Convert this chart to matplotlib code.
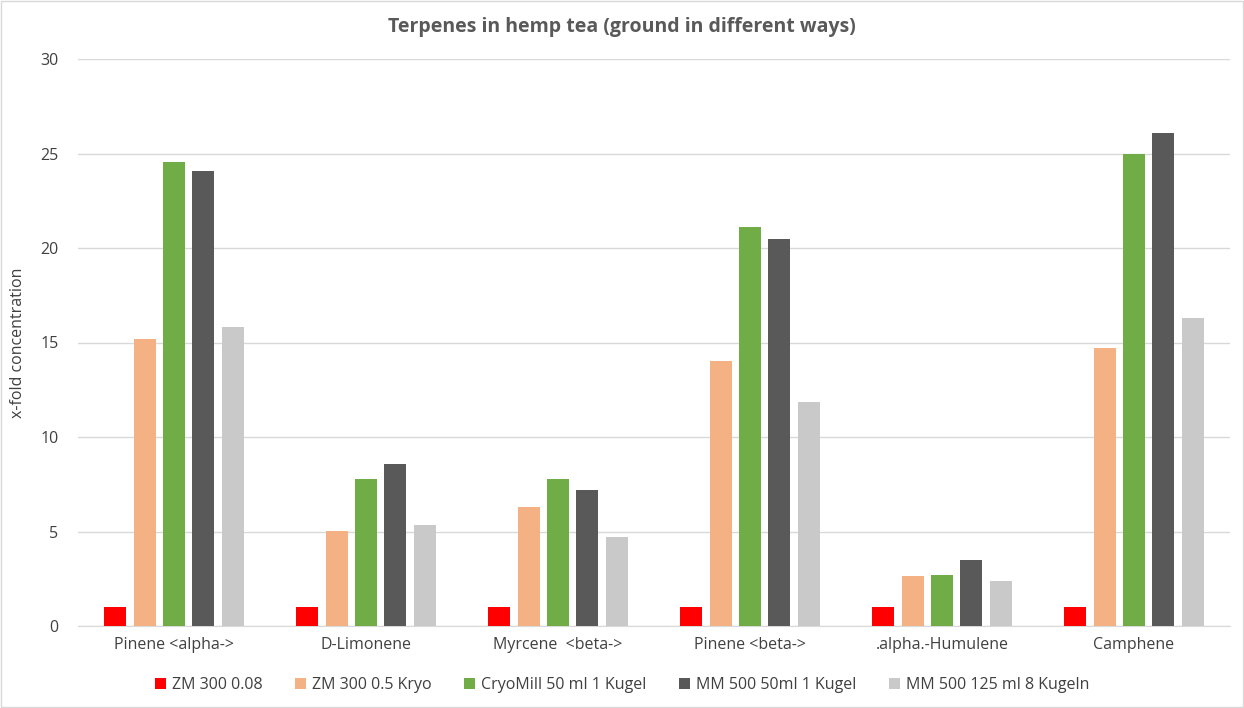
import matplotlib.pyplot as plt
import numpy as np

categories = ["Pinene <alpha->", "D-Limonene", "Myrcene  <beta->", "Pinene <beta->",
              ".alpha.-Humulene", "Camphene"]
series_names = ["ZM 300 0.08", "ZM 300 0.5 Kryo", "CryoMill 50 ml 1 Kugel",
                "MM 500 50ml 1 Kugel", "MM 500 125 ml 8 Kugeln"]
zm_008 = [1, 1, 1, 1, 1, 1]
zm_05_kryo = [15.2, 5.03, 6.3, 14.02, 2.65, 14.71]
cryomill = [24.55, 7.78, 7.78, 21.11, 2.7, 24.97]
mm500_1 = [24.07, 8.57, 7.2, 20.48, 3.49, 26.08]
mm500_8 = [15.82, 5.34, 4.71, 11.85, 2.38, 16.3]
colors = ["#FF0000", "#F4B183", "#70AD47", "#595959", "#C9C9C9"]

plt.rcParams['font.family'] = ['Open Sans', 'DejaVu Sans']

fig = plt.figure(figsize=(12.44, 7.08), dpi=100)
ax = fig.add_axes([78 / 1244, 82 / 708, 1152 / 1244, 567 / 708])

x = np.arange(len(categories))
width = 0.115
step = 0.153
all_series = [zm_008, zm_05_kryo, cryomill, mm500_1, mm500_8]
for i, vals in enumerate(all_series):
    ax.bar(x + (i - 2) * step, vals, width, color=colors[i], label=series_names[i], zorder=3)

ax.set_xlim(-0.5, len(categories) - 0.5)
ax.set_ylim(0, 30)
ax.set_yticks(range(0, 31, 5))
ax.set_xticks(x)
ax.set_xticklabels(categories, fontsize=11.5, color="#404040")
ax.tick_params(axis="y", labelsize=11.5, labelcolor="#404040", length=0, pad=14)
ax.tick_params(axis="x", length=0, pad=8)
ax.grid(axis="y", color="#D9D9D9", linewidth=1, zorder=0)
for s in ["top", "left", "right"]:
    ax.spines[s].set_visible(False)
ax.spines["bottom"].set_color("#D9D9D9")
ax.set_ylabel("x-fold concentration", fontsize=11.5, color="#404040", labelpad=10)

fig.text(0.5, 0.962, "Terpenes in hemp tea (ground in different ways)", ha="center", va="center",
         fontsize=14, fontweight="bold", color="#595959")

fig.legend(loc="center", bbox_to_anchor=(0.5, (708 - 685) / 708), ncol=5,
           frameon=False, fontsize=11.5, handlelength=0.7, handleheight=0.7, columnspacing=2.0,
           handletextpad=0.4, labelcolor="#404040")

fig.patches.append(plt.Rectangle((0.001, 0.001), 0.998, 0.998, transform=fig.transFigure,
                                 fill=False, edgecolor="#D9D9D9", linewidth=1))

fig.savefig("out.png", dpi=100)
